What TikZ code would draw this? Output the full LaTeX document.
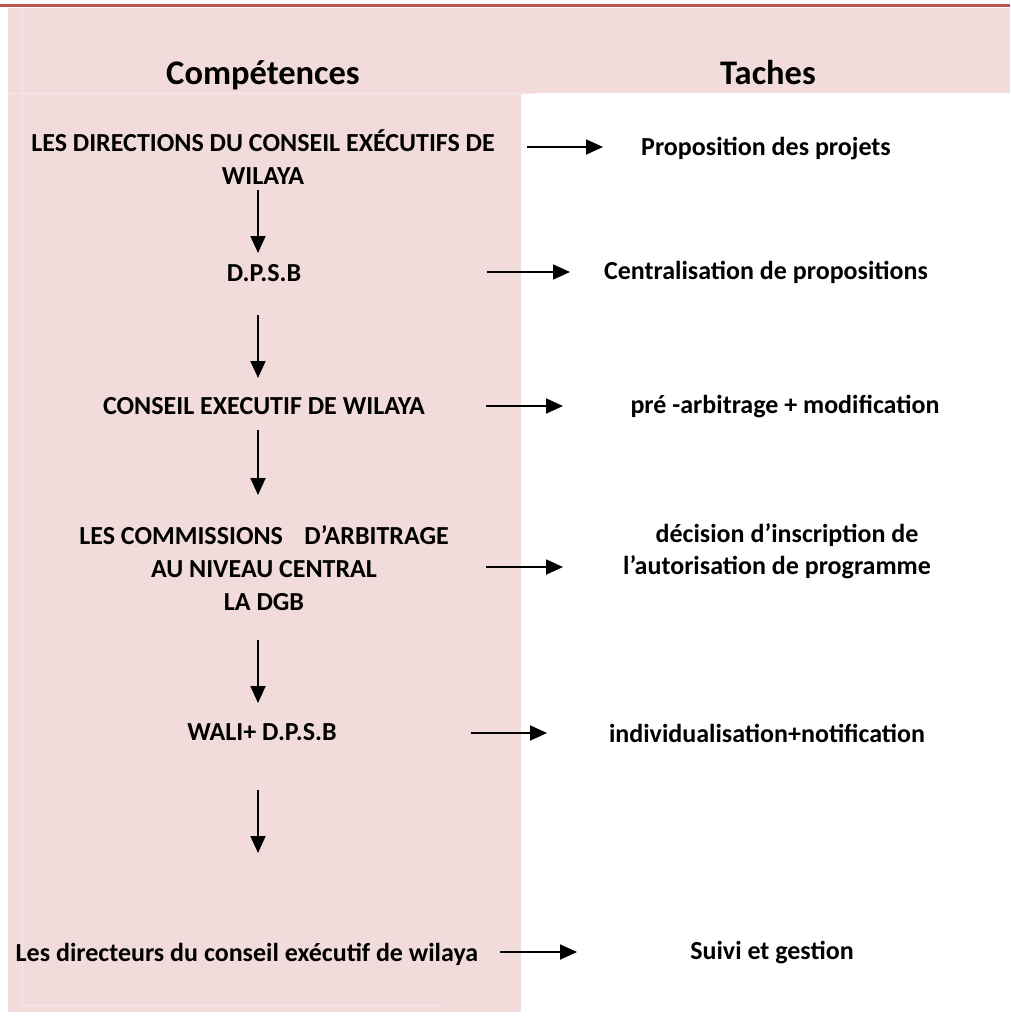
\documentclass[tikz,border=0pt]{standalone}
\usepackage{fontspec}
\setmainfont{Carlito}
\usetikzlibrary{arrows.meta}

\definecolor{cellpink}{HTML}{F2DBDB}
\definecolor{rulered}{HTML}{C0504D}
\definecolor{gridpink}{HTML}{F7E8E8}

\begin{document}
\begin{tikzpicture}[x=1pt, y=-1pt]
    \tikzstyle{comp} = [font=\fontsize{26}{33}\selectfont\bfseries, align=center, inner sep=0pt]
    \tikzstyle{task} = [font=\fontsize{26}{32}\selectfont\bfseries, align=center, inner sep=0pt]
    \tikzstyle{head} = [font=\fontsize{34.5}{40}\selectfont\bfseries, inner sep=0pt, anchor=base]
    \tikzstyle{arr}  = [line width=1.8pt, -{Triangle[length=17pt, width=15pt]}]

    \useasboundingbox (0, 0) rectangle (1010, 1016);

    % table background
    \fill[cellpink] (8, 8) rectangle (1010, 93);
    \fill[cellpink] (8, 93) rectangle (521, 1012);
    \draw[gridpink, line width=0.8pt] (22, 8) -- (22, 1005) -- (441, 1005);
    \draw[gridpink, line width=0.8pt] (8, 93) -- (535, 93);
    \draw[rulered, line width=3pt] (0, 6) -- (1010, 6);

    \node[head] (hcomp) at (263, 85) {Compétences};
    \node[head] (htach) at (768, 85) {Taches};

    % left column
    \node[comp] (c1) at (263, 157) {LES DIRECTIONS DU CONSEIL EXÉCUTIFS DE\\WILAYA};
    \node[comp] (c2) at (264, 273) {D.P.S.B};
    \node[comp] (c3) at (264, 406) {CONSEIL EXECUTIF DE WILAYA};
    \node[comp] (c4) at (264, 568) {LES COMMISSIONS\hspace{0.6em} D’ARBITRAGE\\AU NIVEAU CENTRAL\\LA DGB};
    \node[comp] (c5) at (262, 732) {WALI+ D.P.S.B};
    \node[comp] (c6) at (247, 954) {Les directeurs du conseil exécutif de wilaya};

    % right column
    \node[task] (t1) at (766, 149) {Proposition des projets};
    \node[task] (t2) at (766, 272) {Centralisation de propositions};
    \node[task] (t3) at (785, 407) {pré -arbitrage + modification};
    \node[task] (t4) at (777, 551) {\hspace{20pt}décision d’inscription de\\l’autorisation de programme};
    \node[task] (t5) at (767, 733) {individualisation+notification};
    \node[task] (t6) at (772, 953) {Suivi et gestion};

    % arrow ends
    \coordinate (v1a) at (258, 190);  \coordinate (v1b) at (258, 253);
    \coordinate (v2a) at (258, 315);  \coordinate (v2b) at (258, 378);
    \coordinate (v3a) at (258, 430);  \coordinate (v3b) at (258, 495);
    \coordinate (v4a) at (258, 640);  \coordinate (v4b) at (258, 703);
    \coordinate (v5a) at (258, 790);  \coordinate (v5b) at (258, 853);

    \coordinate (h1a) at (527, 147);  \coordinate (h1b) at (603, 147);
    \coordinate (h2a) at (487, 272);  \coordinate (h2b) at (570, 272);
    \coordinate (h3a) at (486, 406);  \coordinate (h3b) at (563, 406);
    \coordinate (h4a) at (486, 567);  \coordinate (h4b) at (563, 567);
    \coordinate (h5a) at (471, 733);  \coordinate (h5b) at (547, 733);
    \coordinate (h6a) at (500, 952);  \coordinate (h6b) at (577, 952);

    \draw[arr] (v1a) -- (v1b);
    \draw[arr] (v2a) -- (v2b);
    \draw[arr] (v3a) -- (v3b);
    \draw[arr] (v4a) -- (v4b);
    \draw[arr] (v5a) -- (v5b);

    \draw[arr] (h1a) -- (h1b);
    \draw[arr] (h2a) -- (h2b);
    \draw[arr] (h3a) -- (h3b);
    \draw[arr] (h4a) -- (h4b);
    \draw[arr] (h5a) -- (h5b);
    \draw[arr] (h6a) -- (h6b);

\end{tikzpicture}
\end{document}
